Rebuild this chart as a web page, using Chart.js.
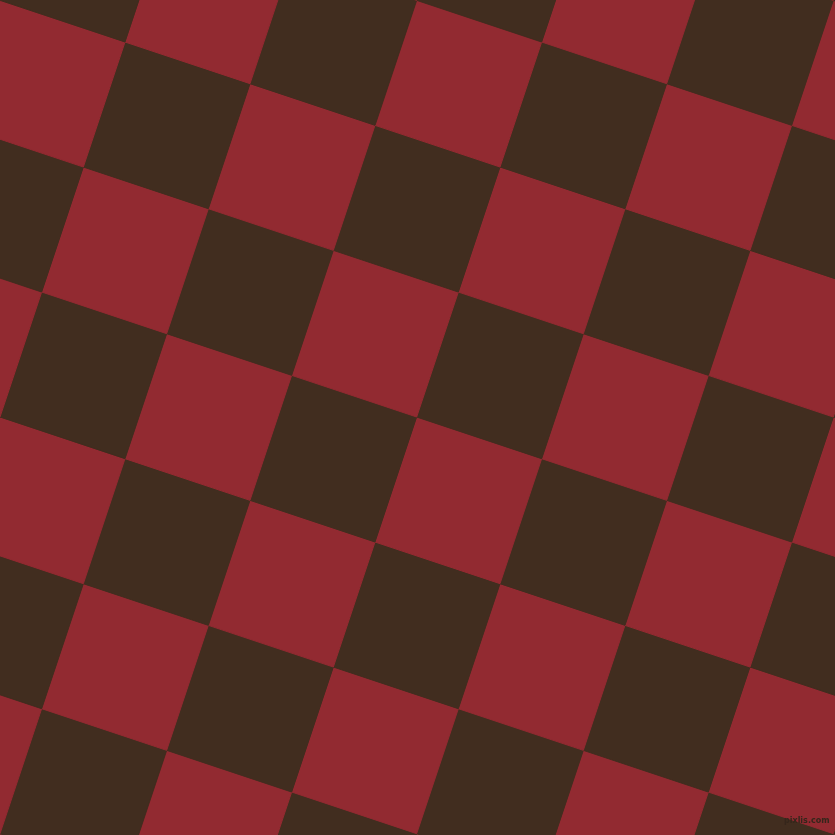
<!DOCTYPE html>
<html>
<head>
<meta charset="utf-8">
<script src="https://cdn.jsdelivr.net/npm/chart.js@4/dist/chart.umd.min.js"></script>
<style>
html,body{margin:0;padding:0;background:#412D1F;overflow:hidden;}
#wrap{position:relative;width:835px;height:835px;}
#mark{position:absolute;left:784px;top:816px;font:bold 8px "DejaVu Sans",sans-serif;line-height:10px;color:#35261b;}
</style>
</head>
<body>
<div id="wrap">
<canvas id="c" width="835" height="835"></canvas>
<div id="mark">pixlis.com</div>
</div>
<script>
// Grid definition
const gridOrigin = [125, 42];            // one lattice corner
const stepAlongRow = [125, 41.667];      // vector to next column corner
const stepAlongCol = [-41.667, 125];     // vector to next row corner
const columnIndices = [-3,-2,-1,0,1,2,3,4,5,6,7,8];
const rowIndices = [-3,-2,-1,0,1,2,3,4,5,6,7,8];
const cellColors = ['#412D1F', '#922A31']; // even parity, odd parity
const axisRange = [0, 835];

function corner(i, j) {
  return {
    x: gridOrigin[0] + i * stepAlongRow[0] + j * stepAlongCol[0],
    y: gridOrigin[1] + i * stepAlongRow[1] + j * stepAlongCol[1]
  };
}

const datasets = [];
for (const j of rowIndices) {
  for (const i of columnIndices) {
    const color = cellColors[((i + j) % 2 + 2) % 2];
    datasets.push({
      data: [corner(i, j), corner(i + 1, j), corner(i + 1, j + 1), corner(i, j + 1), corner(i, j)],
      showLine: true,
      fill: 'shape',
      backgroundColor: color,
      borderColor: color,
      borderWidth: 1,
      pointRadius: 0,
      pointHoverRadius: 0,
      tension: 0
    });
  }
}

new Chart(document.getElementById('c'), {
  type: 'scatter',
  data: { datasets },
  options: {
    responsive: false,
    animation: false,
    devicePixelRatio: 1,
    layout: { padding: 0 },
    plugins: { legend: { display: false }, tooltip: { enabled: false } },
    events: [],
    scales: {
      x: { type: 'linear', min: axisRange[0], max: axisRange[1], display: false },
      y: { type: 'linear', min: axisRange[0], max: axisRange[1], reverse: true, display: false }
    }
  }
});
</script>
</body>
</html>
